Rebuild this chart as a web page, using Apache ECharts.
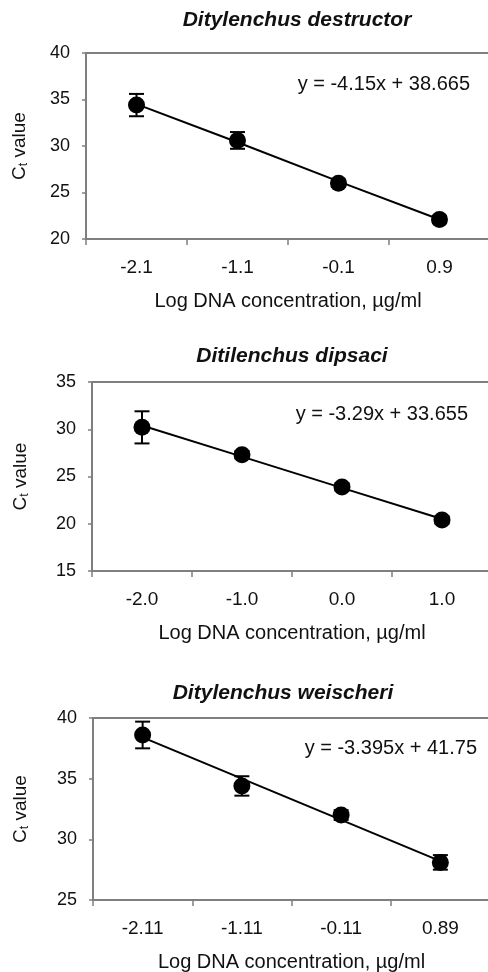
<!DOCTYPE html>
<html>
<head>
<meta charset="utf-8">
<script src="https://cdn.jsdelivr.net/npm/echarts@6/dist/echarts.min.js"></script>
<style>
  html, body { margin: 0; padding: 0; background: #fff; }
  #chart { width: 488px; height: 972px; }
</style>
</head>
<body>
<div id="chart"></div>
<script>
const panelTitles = ["Ditylenchus destructor", "Ditilenchus dipsaci", "Ditylenchus weischeri"];
const equations = ["y = -4.15x + 38.665", "y = -3.29x + 33.655", "y = -3.395x + 41.75"];

const xLabels1 = ["-2.1", "-1.1", "-0.1", "0.9"];
const xLabels2 = ["-2.0", "-1.0", "0.0", "1.0"];
const xLabels3 = ["-2.11", "-1.11", "-0.11", "0.89"];

const ct1 = [34.4, 30.6, 26.0, 22.1];
const err1 = [1.2, 0.9, 0.4, 0.4];
const fit1 = [34.5, 30.4, 26.2, 22.1];

const ct2 = [30.2, 27.3, 23.9, 20.4];
const err2 = [1.7, 0.4, 0.4, 0.4];
const fit2 = [30.4, 27.1, 23.8, 20.5];

const ct3 = [38.6, 34.4, 32.0, 28.1];
const err3 = [1.1, 0.8, 0.4, 0.6];
const fit3 = [38.4, 35.0, 31.6, 28.2];

const yMin = [20, 15, 25];
const yMax = [40, 35, 40];

const FONT = "Liberation Sans, Arial, sans-serif";
const AXIS_GRAY = "#7f7f7f";
const INK = "#111";

// grid boxes run a little past the right edge, as in the source figure
const panels = [
  { labels: xLabels1, ct: ct1, err: err1, fit: fit1, grid: { left: 86, top: 53, width: 404, height: 186 }, yGap: 66 },
  { labels: xLabels2, ct: ct2, err: err2, fit: fit2, grid: { left: 92, top: 382, width: 400, height: 189 }, yGap: 71 },
  { labels: xLabels3, ct: ct3, err: err3, fit: fit3, grid: { left: 93, top: 718, width: 397, height: 182 }, yGap: 72 },
];

const titlePos = [[297, 20], [292, 356], [283, 693]];
const eqPos = [[470, 84], [468, 414], [477, 748]];

const errorBarItem = (params, api) => {
  const x = api.value(0);
  const lo = api.coord([x, api.value(1)]);
  const hi = api.coord([x, api.value(2)]);
  const half = 7.5;
  const style = { stroke: "#000", lineWidth: 2 };
  return {
    type: "group",
    children: [
      { type: "line", shape: { x1: lo[0], y1: lo[1], x2: hi[0], y2: hi[1] }, style },
      { type: "line", shape: { x1: lo[0] - half, y1: lo[1], x2: lo[0] + half, y2: lo[1] }, style },
      { type: "line", shape: { x1: hi[0] - half, y1: hi[1], x2: hi[0] + half, y2: hi[1] }, style },
    ],
  };
};

const grids = [];
const xAxes = [];
const yAxes = [];
const series = [];
const graphics = [];

panels.forEach((p, i) => {
  grids.push({
    ...p.grid,
    outerBoundsMode: "none",
    show: true,
    borderColor: AXIS_GRAY,
    borderWidth: 2,
    backgroundColor: "#fff",
  });
  xAxes.push({
    type: "category",
    gridIndex: i,
    data: p.labels,
    boundaryGap: true,
    name: "Log DNA concentration, µg/ml",
    nameLocation: "middle",
    nameGap: 52,
    nameTextStyle: { fontFamily: FONT, fontSize: 20, color: INK, verticalAlign: "top" },
    axisLine: { lineStyle: { color: AXIS_GRAY, width: 2 } },
    axisTick: { show: true, length: 6, interval: 0, lineStyle: { color: AXIS_GRAY, width: 1.5 } },
    axisLabel: { fontFamily: FONT, fontSize: 19, color: INK, margin: 19, interval: 0 },
    splitLine: { show: false },
  });
  yAxes.push({
    type: "value",
    gridIndex: i,
    min: yMin[i],
    max: yMax[i],
    interval: 5,
    name: "{c|C}{s|t}{c| value}",
    nameLocation: "middle",
    nameRotate: 90,
    nameGap: p.yGap - 10,
    nameTextStyle: {
      rich: {
        c: { fontFamily: FONT, fontSize: 19, color: INK },
        s: { fontFamily: FONT, fontSize: 12, color: INK, padding: [8, 0, 0, 0] },
      },
    },
    axisLine: { show: true, lineStyle: { color: AXIS_GRAY, width: 2 } },
    axisTick: { show: true, length: 4, lineStyle: { color: AXIS_GRAY, width: 1.5 } },
    axisLabel: { fontFamily: FONT, fontSize: 18, color: INK, margin: 16 },
    splitLine: { show: false },
  });
  series.push({
    type: "line",
    xAxisIndex: i,
    yAxisIndex: i,
    data: p.fit,
    showSymbol: false,
    lineStyle: { color: "#000", width: 2 },
    z: 2,
    silent: true,
  });
  series.push({
    type: "custom",
    xAxisIndex: i,
    yAxisIndex: i,
    renderItem: errorBarItem,
    encode: { x: 0, y: [1, 2] },
    data: p.ct.map((v, k) => [k, v - p.err[k], v + p.err[k]]),
    z: 3,
    silent: true,
  });
  series.push({
    type: "scatter",
    xAxisIndex: i,
    yAxisIndex: i,
    data: p.ct,
    symbol: "circle",
    symbolSize: 17,
    itemStyle: { color: "#000", opacity: 1 },
    z: 4,
    silent: true,
  });
  graphics.push({
    type: "text",
    x: titlePos[i][0],
    y: titlePos[i][1],
    style: {
      text: panelTitles[i],
      font: "italic bold 21px " + FONT,
      fill: INK,
      align: "center",
      verticalAlign: "middle",
    },
  });
  graphics.push({
    type: "text",
    x: eqPos[i][0],
    y: eqPos[i][1],
    z: 10,
    style: {
      text: equations[i],
      font: "20px " + FONT,
      fill: INK,
      align: "right",
      verticalAlign: "middle",
    },
  });
});

const chart = echarts.init(document.getElementById("chart"), null, { renderer: "canvas" });
chart.setOption({
  animation: false,
  backgroundColor: "#fff",
  grid: grids,
  xAxis: xAxes,
  yAxis: yAxes,
  series,
  graphic: graphics,
});
</script>
</body>
</html>
